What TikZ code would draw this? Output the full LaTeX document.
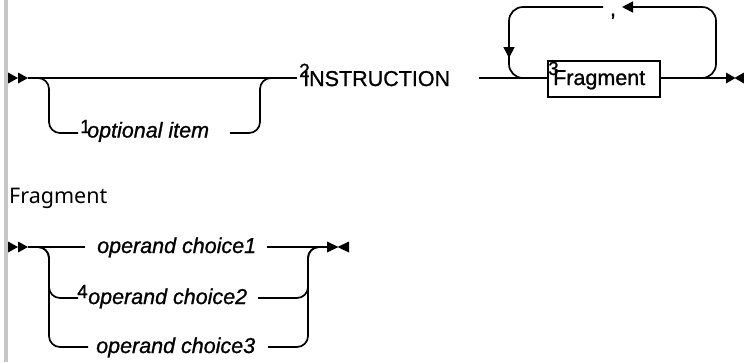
\documentclass[tikz,border=0pt]{standalone}
\usepackage{fontspec}
\setmainfont{Liberation Sans}[FakeBold=1]
\newfontfamily\labelfont{Noto Sans}
\usetikzlibrary{arrows.meta}

\tikzset{
  rail/.style={line width=1.7pt, line cap=butt},
  branch/.style={rail, rounded corners=11pt},
  loopline/.style={rail, rounded corners=14pt},
  tip/.style={-{Triangle[length=11pt,width=11pt]}},
  head/.style={fill=black},
  term/.style={inner sep=0pt, anchor=base west, font=\fontsize{21.5}{25}\selectfont},
  opt/.style={inner sep=0pt, anchor=base west, font=\fontsize{21.5}{25}\selectfont\itshape},
  footnum/.style={inner sep=0pt, anchor=base west, font=\fontsize{19}{22}\selectfont},
  fragbox/.style={draw, line width=1.5pt, minimum width=112pt, minimum height=36pt, inner sep=0pt},
}

\begin{document}
\begin{tikzpicture}[x=1pt, y=-1pt]
  \useasboundingbox (0,0) rectangle (744,362);
  % page rule on the left
  \fill[black!22] (3.5,0) rectangle (7.5,362);

  % ---------- main statement ----------
  \coordinate (a0) at (8,78);
  \coordinate (a1) at (28,78);
  \coordinate (aend) at (297,78);
  \fill[head] (8,72.5) -- (18,78) -- (8,83.5) -- cycle;
  \fill[head] (18,72.5) -- (28,78) -- (18,83.5) -- cycle;
  \draw[rail] (a1) -- (aend);

  % optional branch
  \node[footnum] (n1) at (80,133) {1};
  \node[opt] (optitem) at (87,137.5) {optional item};
  \coordinate (oL) at (78,133);
  \coordinate (oR) at (230,133);
  \draw[branch] (30,78) -| (49,133) -- (oL);
  \draw[branch] (oR) -| (260,78) -- (285,78);

  % keyword
  \node[footnum] (n2) at (299,77) {2};
  \node[term] (instr) at (303,86) {INSTRUCTION};

  % repeated fragment
  \node[fragbox] (frag) at (604,79) {};
  \node[footnum] (n3) at (548,75) {3};
  \node[term] (fragtxt) at (553,85) {Fragment};
  \coordinate (bL) at (479,78);
  \coordinate (bEnd) at (726,78);
  \draw[rail] (bL) -- (frag.west |- bL);
  \draw[rail] (frag.east |- bEnd) -- (bEnd);
  \fill[head] (726,72.5) -- (735.5,78) -- (726,83.5) -- cycle;
  \fill[head] (744,72.5) -- (734.5,78) -- (744,83.5) -- cycle;

  % repeat loop with separator
  \node[term, anchor=base, text height=3pt, text depth=4pt] (sep) at (613,16) {,};
  \draw[loopline, tip] (685,78) -| (716,7) -- (622,7);
  \draw[loopline] (603,7) -| (509,78) -- (535,78);
  \draw[rail, tip] (509,35) -- (509,58);

  % ---------- fragment definition ----------
  \node[inner sep=0pt, anchor=base west, font=\labelfont\fontsize{21.5}{25}\selectfont] (fraglabel) at (9,203) {Fragment};

  \coordinate (f1) at (28,247);
  \fill[head] (8,241.5) -- (18,247) -- (8,252.5) -- cycle;
  \fill[head] (18,241.5) -- (28,247) -- (18,252.5) -- cycle;

  \node[opt] (c1) at (97,253) {operand choice1};
  \node[footnum] (n4) at (77,298) {4};
  \node[opt] (c2) at (88,304) {operand choice2};
  \node[opt] (c3) at (96,353) {operand choice3};

  \draw[rail] (f1) -- (85,247);
  \draw[rail] (267,247) -- (327,247);
  \draw[branch] (30,247) -| (49,298) -- (78,298);
  \draw[branch] (30,247) -| (49,347) -- (88,347);
  \draw[branch] (258,298) -| (308,247) -- (320,247);
  \draw[branch] (268,347) -| (308,247) -- (320,247);
  \fill[head] (327,241.5) -- (338.5,247) -- (327,252.5) -- cycle;
  \fill[head] (349,241.5) -- (337.5,247) -- (349,252.5) -- cycle;
\end{tikzpicture}
\end{document}
